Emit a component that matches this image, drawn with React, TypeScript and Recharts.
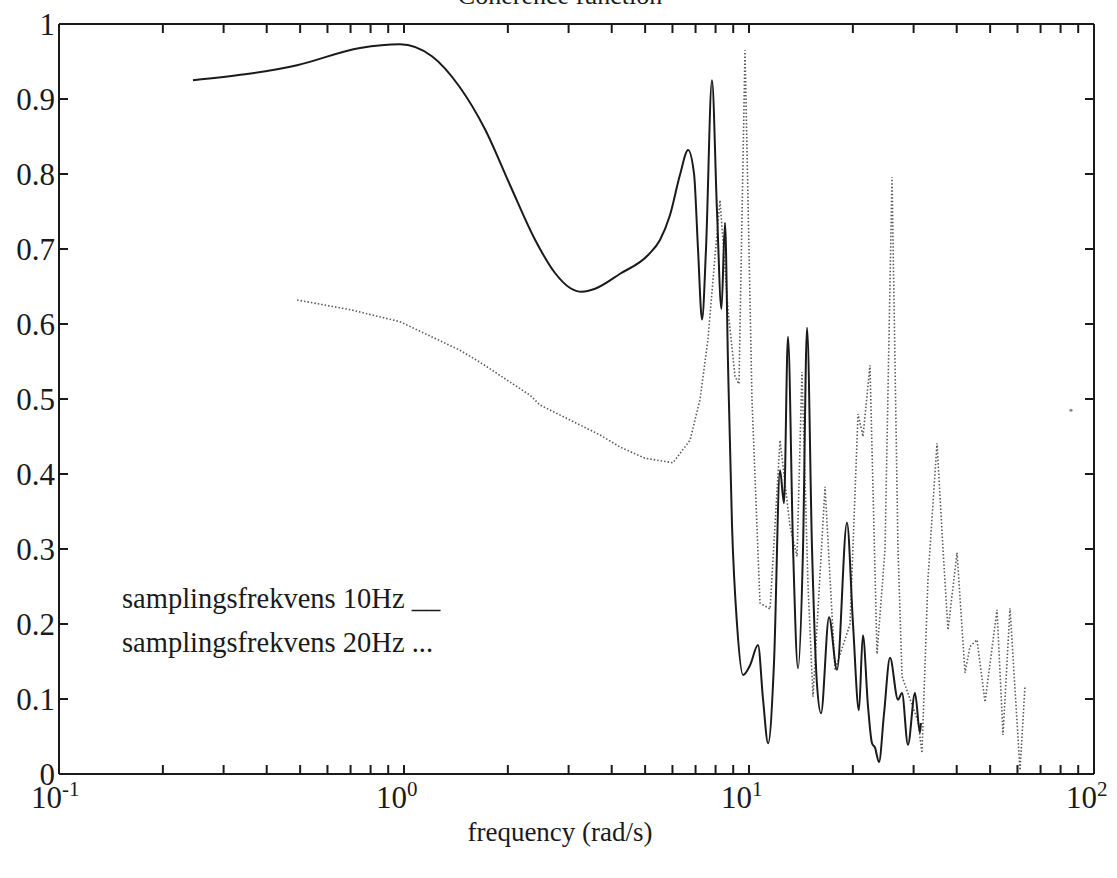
import React from 'react';
import { ComposedChart, Line, Scatter, XAxis, YAxis } from 'recharts';

// Frequency (rad/s) and coherence, 10 Hz sampling (solid)
const freq10 = [0.2445, 0.49, 0.746, 0.973, 1.205, 1.45, 1.72, 2.03, 2.4, 2.74, 3.03, 3.28, 3.58, 4.23, 5.1, 5.52, 5.9, 6.31, 6.66, 6.93, 7.115, 7.31, 7.505, 7.81, 8.077, 8.32, 8.52, 8.69, 8.93, 9.23, 9.61, 10.07, 10.62, 10.98, 11.36, 11.82, 12.3, 12.63, 12.97, 13.42, 13.87, 14.34, 14.73, 15.23, 15.74, 16.17, 17.06, 17.99, 19.23, 20.02, 20.83, 21.38, 22.13, 22.73, 23.19, 23.81, 24.62, 25.63, 27.03, 27.76, 28.89, 30.28, 31.3, 31.5];
const coh10 = [0.925, 0.945, 0.968, 0.973, 0.957, 0.916, 0.859, 0.785, 0.712, 0.668, 0.648, 0.643, 0.647, 0.667, 0.692, 0.712, 0.745, 0.799, 0.832, 0.8, 0.7, 0.606, 0.7, 0.925, 0.75, 0.62, 0.735, 0.55, 0.33, 0.2, 0.132, 0.145, 0.172, 0.1, 0.041, 0.15, 0.405, 0.361, 0.583, 0.3, 0.141, 0.3, 0.595, 0.3, 0.12, 0.081, 0.209, 0.139, 0.335, 0.2, 0.085, 0.185, 0.09, 0.041, 0.035, 0.016, 0.08, 0.155, 0.099, 0.108, 0.039, 0.108, 0.055, 0.068];

// Frequency (rad/s) and coherence, 20 Hz sampling (dotted)
const freq20 = [0.49, 0.7, 0.974, 1.453, 1.661, 2.319, 2.478, 3.7, 4.228, 4.995, 6.021, 6.745, 7.211, 7.605, 7.969, 8.24, 8.69, 9.108, 9.354, 9.736, 10.2, 10.76, 11.51, 12.3, 13.15, 13.78, 14.24, 14.83, 15.33, 16.61, 17.76, 19.63, 20.7, 21.4, 22.42, 23.5, 24.79, 25.97, 27.03, 27.77, 29.29, 30.9, 31.72, 33.02, 35.07, 36.5, 37.74, 40.09, 42.28, 43.71, 45.81, 48.32, 52.35, 54.48, 57.09, 61.03, 63.1];
const coh20 = [0.632, 0.619, 0.603, 0.565, 0.549, 0.505, 0.492, 0.452, 0.436, 0.421, 0.415, 0.445, 0.499, 0.58, 0.69, 0.765, 0.62, 0.53, 0.52, 0.965, 0.5, 0.228, 0.22, 0.445, 0.33, 0.29, 0.536, 0.25, 0.103, 0.383, 0.139, 0.2, 0.48, 0.45, 0.545, 0.16, 0.3, 0.796, 0.3, 0.13, 0.1, 0.07, 0.028, 0.26, 0.441, 0.3, 0.192, 0.295, 0.135, 0.17, 0.179, 0.096, 0.219, 0.052, 0.221, 0.005, 0.118];

// Isolated stray point of the 20 Hz estimate
const strayFreq = [85.77];
const strayCoh = [0.485];

const xTicks = [0.1, 0.2, 0.3, 0.4, 0.5, 0.6, 0.7, 0.8, 0.9, 1, 2, 3, 4, 5, 6, 7, 8, 9, 10, 20, 30, 40, 50, 60, 70, 80, 90, 100];
const yTicks = [0, 0.1, 0.2, 0.3, 0.4, 0.5, 0.6, 0.7, 0.8, 0.9, 1];
const yTickLabels = ['0', '0.1', '0.2', '0.3', '0.4', '0.5', '0.6', '0.7', '0.8', '0.9', '1'];

const title = 'Coherence function';
const xLabel = 'frequency (rad/s)';
const legendLines = ['samplingsfrekvens 10Hz __', 'samplingsfrekvens 20Hz ...'];

const data10 = freq10.map((f, i) => ({ f, c: coh10[i] }));
const data20 = freq20.map((f, i) => ({ f, c: coh20[i] }));
const dataStray = strayFreq.map((f, i) => ({ f, c: strayCoh[i] }));

const FONT = '"Liberation Serif", "DejaVu Serif", serif';
const INK = '#1a1a1a';

const isDecade = (v: number) => {
  const e = Math.round(Math.log10(v));
  return Math.abs(v - Math.pow(10, e)) < 1e-9;
};

const BottomTick = (props: any) => {
  const { x, y, payload } = props;
  const v = payload.value;
  const e = Math.round(Math.log10(v));
  return (
    <g>
      <line x1={x} y1={y} x2={x} y2={y - 9} stroke={INK} strokeWidth={2} />
      {isDecade(v) && (
        <text x={x - 28} y={y + 34} textAnchor="start" fontFamily={FONT} fontSize={31} fill={INK}>
          10<tspan fontSize={21} dy={-12}>{e}</tspan>
        </text>
      )}
    </g>
  );
};

const TopTick = (props: any) => {
  const { x, y } = props;
  return <line x1={x} y1={y} x2={x} y2={y + 9} stroke={INK} strokeWidth={2} />;
};

const LeftTick = (props: any) => {
  const { x, y, payload, index } = props;
  return (
    <g>
      <line x1={x} y1={y} x2={x + 9} y2={y} stroke={INK} strokeWidth={2} />
      <text x={x - 4} y={y} dy="0.34em" textAnchor="end" fontFamily={FONT} fontSize={31} fill={INK}>
        {yTickLabels[index] ?? String(payload.value)}
      </text>
    </g>
  );
};

const RightTick = (props: any) => {
  const { x, y } = props;
  return <line x1={x} y1={y} x2={x - 9} y2={y} stroke={INK} strokeWidth={2} />;
};

const StrayDot = (props: any) => {
  const { cx, cy } = props;
  return <circle cx={cx} cy={cy} r={1.6} fill="#888" />;
};

export default function App() {
  return (
    <div style={{ position: 'absolute', left: 0, top: 0, width: 1117, height: 878, background: '#fff' }}>
      <ComposedChart
        width={1117}
        height={878}
        margin={{ top: 23, right: 22, bottom: 0, left: 0 }}
      >
        <XAxis
          xAxisId="b"
          dataKey="f"
          type="number"
          scale="log"
          domain={[0.1, 100]}
          allowDataOverflow
          ticks={xTicks}
          interval={0}
          tickSize={0}
          tickMargin={0}
          tickLine={false}
          tick={<BottomTick />}
          height={104}
          axisLine={{ stroke: INK, strokeWidth: 2 }}
        />
        <XAxis
          xAxisId="t"
          orientation="top"
          dataKey="f"
          type="number"
          scale="log"
          domain={[0.1, 100]}
          allowDataOverflow
          ticks={xTicks}
          interval={0}
          tickSize={0}
          tickMargin={0}
          tickLine={false}
          tick={<TopTick />}
          height={1}
          axisLine={{ stroke: INK, strokeWidth: 2 }}
        />
        <YAxis
          yAxisId="l"
          type="number"
          domain={[0, 1]}
          allowDataOverflow
          ticks={yTicks}
          interval={0}
          tickSize={0}
          tickMargin={0}
          tickLine={false}
          tick={<LeftTick />}
          width={59}
          axisLine={{ stroke: INK, strokeWidth: 2 }}
        />
        <YAxis
          yAxisId="r"
          orientation="right"
          type="number"
          domain={[0, 1]}
          allowDataOverflow
          ticks={yTicks}
          interval={0}
          tickSize={0}
          tickMargin={0}
          tickLine={false}
          tick={<RightTick />}
          width={1}
          axisLine={{ stroke: INK, strokeWidth: 2 }}
        />
        <Line
          xAxisId="t"
          yAxisId="r"
          data={data20}
          dataKey="c"
          type="linear"
          stroke="none"
          dot={false}
          activeDot={false}
          isAnimationActive={false}
        />
        <Line
          xAxisId="b"
          yAxisId="l"
          data={data20}
          dataKey="c"
          type="linear"
          stroke="#5a5a5a"
          strokeWidth={1.6}
          strokeDasharray="1.5 2"
          dot={false}
          isAnimationActive={false}
        />
        <Line
          xAxisId="b"
          yAxisId="l"
          data={data10}
          dataKey="c"
          type="monotone"
          stroke={INK}
          strokeWidth={2}
          dot={false}
          isAnimationActive={false}
        />
        <Scatter
          xAxisId="b"
          yAxisId="l"
          data={dataStray}
          dataKey="c"
          shape={<StrayDot />}
          isAnimationActive={false}
        />
      </ComposedChart>
      <svg
        width={1117}
        height={878}
        style={{ position: 'absolute', left: 0, top: 0, pointerEvents: 'none' }}
      >
        <text x={560} y={4} textAnchor="middle" fontFamily={FONT} fontSize={26} fill={INK}>
          {title}
        </text>
        <text x={122} y={608} fontFamily={FONT} fontSize={28.5} fill={INK}>
          {legendLines[0]}
        </text>
        <text x={122} y={652} fontFamily={FONT} fontSize={28.5} fill={INK}>
          {legendLines[1]}
        </text>
        <text x={560} y={841} textAnchor="middle" fontFamily={FONT} fontSize={27} fill={INK}>
          {xLabel}
        </text>
      </svg>
    </div>
  );
}
